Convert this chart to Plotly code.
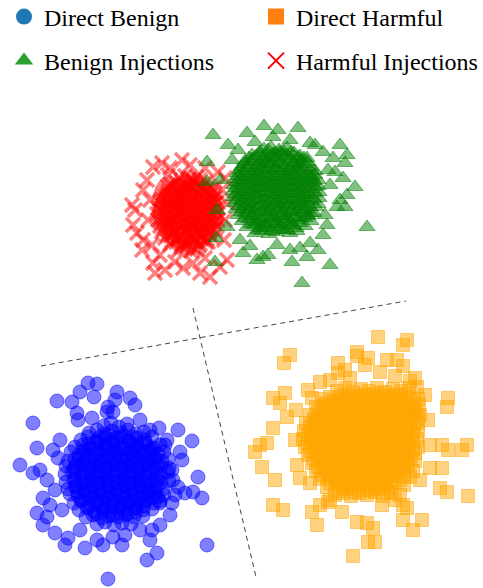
import plotly.graph_objects as go

W, H = 483, 588
FONT = "Liberation Serif"

LABELS = ["Direct Benign", "Direct Harmful", "Benign Injections", "Harmful Injections"]

# ---- Direct Benign (blue circles): embedding coordinates ----
benign_core = [
    (104,426),(111,423),(119,427),(127,424),
    (89,433),(97,430),(104,434),(112,431),(121,433),(128,430),(136,434),(144,432),
    (81,440),(88,437),(96,441),(105,438),(112,440),(120,437),(129,441),(137,438),(145,440),(152,437),
    (75,447),(83,445),(90,448),(99,444),(107,447),(114,445),(123,448),(131,445),(138,447),(146,444),(154,448),(160,445),
    (71,452),(79,455),(86,452),(95,454),(102,451),(111,454),(118,452),(127,455),(134,452),(142,454),(151,451),(158,454),(164,452),
    (68,461),(75,459),(83,462),(90,459),(99,461),(106,458),(115,461),(122,459),(131,462),(138,459),(147,461),(154,458),(162,461),(168,459),
    (66,466),(74,468),(81,465),(90,468),(97,466),(106,468),(113,465),(122,468),(129,466),(138,468),(145,465),(154,467),(161,466),(169,468),
    (65,474),(72,472),(81,475),(88,473),(97,476),(104,473),(113,475),(120,472),(129,475),(136,473),(145,476),(152,473),(161,475),(168,472),
    (66,482),(74,480),(81,483),(90,481),(97,483),(106,480),(113,482),(122,480),(129,483),(138,481),(145,483),(154,480),(161,482),(169,481),
    (68,489),(75,487),(84,490),(91,487),(100,489),(107,487),(116,490),(123,487),(132,489),(139,487),(148,490),(155,488),(163,489),
    (70,494),(78,496),(85,494),(94,497),(101,494),(110,496),(117,494),(126,497),(133,495),(142,496),(149,494),(158,497),(164,495),
    (74,503),(81,501),(90,504),(97,501),(106,503),(113,501),(122,504),(129,502),(138,504),(145,501),(154,503),(160,501),
    (79,510),(87,508),(94,511),(103,509),(110,511),(119,508),(126,510),(135,508),(143,510),(152,509),
    (86,517),(93,515),(102,518),(109,516),(118,517),(125,515),(134,517),(143,516),
    (97,524),(105,522),(114,525),(122,523),(131,524),
]
benign_inner = [
    (100,437),(108,435),(116,438),(124,436),(132,437),
    (89,444),(97,442),(105,445),(113,443),(121,444),(129,442),(137,445),(145,443),
    (83,451),(91,449),(99,452),(107,450),(115,451),(123,449),(131,452),(139,450),(147,451),(152,449),
    (79,458),(87,456),(95,459),(103,457),(111,458),(119,456),(127,459),(135,457),(143,458),(151,456),(156,459),
    (76,465),(84,463),(92,466),(100,464),(108,465),(116,463),(124,466),(132,464),(140,465),(148,463),(157,466),
    (75,472),(83,470),(91,473),(99,471),(107,472),(115,470),(123,473),(131,471),(139,472),(147,470),(158,473),
    (75,479),(83,477),(91,480),(99,478),(107,479),(115,477),(123,480),(131,478),(139,479),(147,477),(158,480),
    (76,486),(84,484),(92,487),(100,485),(108,486),(116,484),(124,487),(132,485),(140,486),(148,484),(157,487),
    (78,493),(86,491),(94,494),(102,492),(110,493),(118,491),(126,494),(134,492),(142,493),(150,491),(155,494),
    (82,500),(90,498),(98,501),(106,499),(114,500),(122,498),(130,501),(138,499),(146,500),(152,498),
    (88,507),(96,505),(104,508),(112,506),(120,507),(128,505),(136,508),(144,506),
    (96,514),(104,512),(112,515),(120,513),(128,514),(136,512),
]
benign_outer = [
    (88,383),(97,384),(57,401),(80,392),(72,402),(94,397),(117,392),(115,400),(130,398),(135,405),
    (108,407),(107,412),(113,412),(77,413),(78,420),(33,423),(37,448),(20,465),(33,473),(178,430),
    (192,441),(159,428),(150,430),(167,440),(180,452),(182,460),(198,477),(193,492),(202,498),(185,493),
    (173,480),(178,487),(172,503),(170,515),(160,525),(152,530),(150,540),(157,553),(147,560),(207,545),
    (108,579),(122,545),(103,545),(85,548),(65,545),(68,538),(55,533),(43,525),(47,517),(37,513),
    (50,505),(43,498),(40,470),(47,480),(53,450),(97,540),(113,537),(160,503),
    (60,440),(58,458),(55,490),(62,510),(92,418),(140,420),(172,470),(175,495),(140,530),(80,530),
    (125,535),(165,445),
]

# ---- Direct Harmful (orange squares) ----
harmful_core = [
    (337,391),(345,388),(353,392),(361,389),(369,391),(377,388),(385,392),(393,389),(401,391),(409,388),
    (322,399),(330,397),(338,400),(346,397),(354,399),(362,396),(370,400),(378,397),(386,399),(394,396),(402,400),(410,397),(418,399),
    (316,407),(324,405),(332,408),(340,405),(348,407),(356,404),(364,408),(372,405),(380,407),(388,404),(396,408),(404,405),(412,407),(419,405),
    (310,415),(318,413),(326,416),(334,413),(342,415),(350,412),(358,416),(366,413),(374,415),(382,412),(390,416),(398,413),(406,415),(414,412),(420,415),
    (306,423),(314,421),(322,424),(330,421),(338,423),(346,420),(354,424),(362,421),(370,423),(378,420),(386,424),(394,421),(402,423),(410,420),(418,423),
    (304,431),(312,429),(320,432),(328,429),(336,431),(344,428),(352,432),(360,429),(368,431),(376,428),(384,432),(392,429),(400,431),(408,428),(418,431),
    (303,439),(311,437),(319,440),(327,437),(335,439),(343,436),(351,440),(359,437),(367,439),(375,436),(383,440),(391,437),(399,439),(407,436),(417,439),
    (305,447),(313,445),(321,448),(329,445),(337,447),(345,444),(353,448),(361,445),(369,447),(377,444),(385,448),(393,445),(401,447),(409,444),(418,447),
    (308,455),(316,453),(324,456),(332,453),(340,455),(348,452),(356,456),(364,453),(372,455),(380,452),(388,456),(396,453),(404,455),(415,453),
    (312,463),(320,461),(328,464),(336,461),(344,463),(352,460),(360,464),(368,461),(376,463),(384,460),(392,464),(400,461),(408,463),(415,461),
    (316,471),(324,469),(332,472),(340,469),(348,471),(356,468),(364,472),(372,469),(380,471),(388,468),(396,472),(404,469),(413,471),
    (320,479),(328,477),(336,480),(344,477),(352,479),(360,476),(368,480),(376,477),(384,479),(392,476),(400,480),(410,477),
    (327,487),(335,485),(343,488),(351,485),(359,487),(367,484),(375,488),(383,485),(391,487),(404,485),
    (335,495),(343,493),(351,496),(359,493),(367,495),(375,492),(383,496),(391,493),(400,495),
]
harmful_inner = [
    (341,395),(349,393),(357,396),(365,394),(373,395),(381,393),(389,396),(397,394),(405,395),
    (326,403),(334,401),(342,404),(350,402),(358,403),(366,401),(374,404),(382,402),(390,403),(398,401),(406,404),(414,402),
    (320,411),(328,409),(336,412),(344,410),(352,411),(360,409),(368,412),(376,410),(384,411),(392,409),(400,412),(408,410),(416,411),
    (314,419),(322,417),(330,420),(338,418),(346,419),(354,417),(362,420),(370,418),(378,419),(386,417),(394,420),(402,418),(410,419),(418,417),
    (310,427),(318,425),(326,428),(334,426),(342,427),(350,425),(358,428),(366,426),(374,427),(382,425),(390,428),(398,426),(406,427),(414,425),
    (308,435),(316,433),(324,436),(332,434),(340,435),(348,433),(356,436),(364,434),(372,435),(380,433),(388,436),(396,434),(404,435),(413,433),
    (308,443),(316,441),(324,444),(332,442),(340,443),(348,441),(356,444),(364,442),(372,443),(380,441),(388,444),(396,442),(404,443),(413,441),
    (310,451),(318,449),(326,452),(334,450),(342,451),(350,449),(358,452),(366,450),(374,451),(382,449),(390,452),(398,450),(406,451),(413,449),
    (314,459),(322,457),(330,460),(338,458),(346,459),(354,457),(362,460),(370,458),(378,459),(386,457),(394,460),(402,458),(411,459),
    (318,467),(326,465),(334,468),(342,466),(350,467),(358,465),(366,468),(374,466),(382,467),(390,465),(398,468),(408,466),
    (322,475),(330,473),(338,476),(346,474),(354,475),(362,473),(370,476),(378,474),(386,475),(394,473),(405,476),
    (330,483),(338,481),(346,484),(354,482),(362,483),(370,481),(378,484),(386,482),(395,483),
    (339,491),(347,489),(355,492),(363,490),(371,491),(379,489),(388,492),
]
harmful_outer = [
    (378,337),(407,340),(403,345),(357,352),(357,356),(368,358),(365,365),(290,355),(284,363),(338,363),
    (338,373),(387,360),(397,360),(403,366),(320,382),(415,378),(417,387),(410,381),(285,393),(273,398),
    (280,403),(312,398),(448,398),(447,407),(287,417),(273,428),(467,445),(462,450),(448,450),(442,445),
    (260,445),(255,452),(267,443),(262,467),(275,480),(430,468),(442,468),(440,488),(447,492),(468,496),
    (273,505),(283,510),(312,512),(317,525),(320,505),(342,512),(328,502),(357,522),(367,523),(373,528),
    (382,505),(403,505),(407,508),(403,520),(413,530),(422,520),(368,542),(375,542),(353,556),(310,483),
    (308,390),(330,380),(350,378),(395,376),(425,395),(428,420),(430,445),(296,410),(295,440),(297,465),
    (300,478),(330,500),(395,500),(420,480),(345,370),(380,372),
]

# ---- Harmful Injections (red crosses) ----
inj_harmful_core = [
    (179,178),(185,176),(191,179),(197,177),
    (170,184),(176,182),(182,185),(188,183),(194,181),(200,184),(206,182),
    (165,190),(171,188),(177,191),(183,189),(189,187),(195,190),(201,188),(207,191),(212,189),
    (162,196),(168,194),(174,197),(180,195),(186,193),(192,196),(198,194),(204,197),(210,195),(215,193),
    (160,202),(166,200),(172,203),(178,201),(184,199),(190,202),(196,200),(202,203),(208,201),(214,199),(217,202),
    (158,208),(164,206),(170,209),(176,207),(182,205),(188,208),(194,206),(200,209),(206,207),(212,205),(218,208),
    (157,214),(163,212),(169,215),(175,213),(181,211),(187,214),(193,212),(199,215),(205,213),(211,211),(218,214),
    (158,220),(164,218),(170,221),(176,219),(182,217),(188,220),(194,218),(200,221),(206,219),(212,217),(218,220),
    (160,226),(166,224),(172,227),(178,225),(184,223),(190,226),(196,224),(202,227),(208,225),(214,223),(217,226),
    (162,232),(168,230),(174,233),(180,231),(186,229),(192,232),(198,230),(204,233),(210,231),(215,229),
    (165,238),(171,236),(177,239),(183,237),(189,235),(195,238),(201,236),(207,239),(212,237),
    (170,244),(176,242),(182,245),(188,243),(194,241),(200,244),(206,242),
    (179,250),(185,248),(191,251),(197,249),
]
inj_harmful_inner = [
    (182,181),(188,179),(194,182),(200,180),
    (167,187),(173,185),(179,188),(185,186),(191,187),(197,185),(203,188),(209,186),
    (163,193),(169,191),(175,194),(181,192),(187,193),(193,191),(199,194),(205,192),(211,193),
    (161,199),(167,197),(173,200),(179,198),(185,199),(191,197),(197,200),(203,198),(209,199),(215,197),
    (160,205),(166,203),(172,206),(178,204),(184,205),(190,203),(196,206),(202,204),(208,205),(215,203),
    (160,211),(166,209),(172,212),(178,210),(184,211),(190,209),(196,212),(202,210),(208,211),(215,209),
    (160,217),(166,215),(172,218),(178,216),(184,217),(190,215),(196,218),(202,216),(208,217),(215,215),
    (161,223),(167,221),(173,224),(179,222),(185,223),(191,221),(197,224),(203,222),(209,223),(215,221),
    (163,229),(169,227),(175,230),(181,228),(187,229),(193,227),(199,230),(205,228),(211,229),
    (167,235),(173,233),(179,236),(185,234),(191,235),(197,233),(203,236),(209,234),
    (172,241),(178,239),(184,242),(190,240),(196,241),(202,239),(208,242),
    (181,247),(187,245),(193,248),(199,246),
]
inj_harmful_outer = [
    (153,167),(162,163),(182,160),(190,165),(147,180),(143,190),(132,205),(135,210),(133,225),(137,233),
    (143,240),(142,250),(153,263),(155,273),(165,270),(193,263),(200,273),(210,277),(220,267),(227,260),
    (218,172),(225,178),(227,203),(170,168),(205,168),(150,200),(148,220),(152,245),(175,262),(183,268),
    (222,190),(225,220),(224,240),(205,258),(160,255),(168,175),
]

# ---- Benign Injections (green triangles) ----
inj_benign_core = [
    (264,149),(271,147),(279,150),(287,148),
    (252,155),(259,153),(266,156),(273,154),(280,152),(287,155),(294,153),(300,156),
    (245,161),(252,159),(259,162),(266,160),(273,158),(280,161),(287,159),(294,162),(301,160),(307,158),
    (241,167),(248,165),(255,168),(262,166),(269,164),(276,167),(283,165),(290,168),(297,166),(304,164),(311,167),
    (237,173),(244,171),(251,174),(258,172),(265,170),(272,173),(279,171),(286,174),(293,172),(300,170),(307,173),(315,171),
    (235,179),(242,177),(249,180),(256,178),(263,176),(270,179),(277,177),(284,180),(291,178),(298,176),(305,179),(312,177),(318,180),
    (234,185),(241,183),(248,186),(255,184),(262,182),(269,185),(276,183),(283,186),(290,184),(297,182),(304,185),(311,183),(318,186),
    (233,191),(240,189),(247,192),(254,190),(261,188),(268,191),(275,189),(282,192),(289,190),(296,188),(303,191),(310,189),(319,192),
    (233,197),(240,195),(247,198),(254,196),(261,194),(268,197),(275,195),(282,198),(289,196),(296,194),(303,197),(310,195),(319,198),
    (234,203),(241,201),(248,204),(255,202),(262,200),(269,203),(276,201),(283,204),(290,202),(297,200),(304,203),(311,201),(318,204),
    (236,209),(243,207),(250,210),(257,208),(264,206),(271,209),(278,207),(285,210),(292,208),(299,206),(306,209),(316,207),
    (238,215),(245,213),(252,216),(259,214),(266,212),(273,215),(280,213),(287,216),(294,214),(301,212),(308,215),(314,213),
    (242,221),(249,219),(256,222),(263,220),(270,218),(277,221),(284,219),(291,222),(298,220),(305,218),(311,221),
    (247,227),(254,225),(261,228),(268,226),(275,224),(282,227),(289,225),(296,228),(305,226),
    (255,233),(262,231),(269,234),(276,232),(283,230),(290,233),(297,231),
]
inj_benign_inner = [
    (260,152),(268,150),(275,153),(283,151),(291,152),
    (249,158),(256,156),(263,159),(270,157),(277,158),(284,156),(291,159),(298,157),(304,158),
    (244,164),(251,162),(258,165),(265,163),(272,164),(279,162),(286,165),(293,163),(300,164),(308,162),
    (240,170),(247,168),(254,171),(261,169),(268,170),(275,168),(282,171),(289,169),(296,170),(303,168),(311,171),
    (238,176),(245,174),(252,177),(259,175),(266,176),(273,174),(280,177),(287,175),(294,176),(301,174),(309,177),(315,175),
    (237,182),(244,180),(251,183),(258,181),(265,182),(272,180),(279,183),(286,181),(293,182),(300,180),(307,183),(314,181),
    (236,188),(243,186),(250,189),(257,187),(264,188),(271,186),(278,189),(285,187),(292,188),(299,186),(306,189),(315,187),
    (236,194),(243,192),(250,195),(257,193),(264,194),(271,192),(278,195),(285,193),(292,194),(299,192),(306,195),(315,193),
    (237,200),(244,198),(251,201),(258,199),(265,200),(272,198),(279,201),(286,199),(293,200),(300,198),(307,201),(314,199),
    (239,206),(246,204),(253,207),(260,205),(267,206),(274,204),(281,207),(288,205),(295,206),(302,204),(310,207),
    (241,212),(248,210),(255,213),(262,211),(269,212),(276,210),(283,213),(290,211),(297,212),(304,210),(311,213),
    (245,218),(252,216),(259,219),(266,217),(273,218),(280,216),(287,219),(294,217),(301,218),(308,216),
    (251,224),(258,222),(265,225),(272,223),(279,224),(286,222),(293,225),(300,223),
    (258,230),(265,228),(272,231),(279,229),(287,230),
]
inj_benign_outer = [
    (213,135),(264,126),(278,130),(298,128),(273,137),(247,133),(228,145),(315,145),(340,145),(347,155),
    (323,152),(207,162),(333,158),(345,163),(335,172),(343,178),(355,187),(347,195),(340,200),(345,207),
    (337,207),(327,225),(323,235),(367,227),(243,253),(257,260),(263,257),(292,262),(307,257),(330,265),
    (302,283),(215,262),(220,180),(207,182),(217,210),(216,238),(227,227),(277,245),(290,250),(310,243),
    (310,143),(290,140),(255,142),(238,150),(232,160),(328,170),(330,185),(325,215),(240,240),(250,246),
    (300,248),(318,250),(268,255),
]

# ---- dashed separators (endpoints in the same embedding coordinates) ----
sep_a_x, sep_a_y = [41, 406], [366, 301]
sep_b_x, sep_b_y = [193, 256], [308, 577]


def xs(pts):
    return [p[0] for p in pts]


def ys(pts):
    return [p[1] for p in pts]


fig = go.Figure()

for sx, sy in ((sep_a_x, sep_a_y), (sep_b_x, sep_b_y)):
    fig.add_trace(go.Scatter(x=sx, y=sy, mode="lines", showlegend=False, hoverinfo="skip",
                             line=dict(color="#444444", width=1, dash="5px,4px")))

benign = benign_outer + benign_core + benign_inner
harmful = harmful_outer + harmful_core + harmful_inner
inj_harmful = inj_harmful_outer + inj_harmful_core + inj_harmful_inner
inj_benign = inj_benign_outer + inj_benign_core + inj_benign_inner

fig.add_trace(go.Scatter(x=xs(benign), y=ys(benign), mode="markers", showlegend=False,
                         hoverinfo="skip",
                         marker=dict(symbol="circle", size=14, color="rgba(0,0,255,0.5)",
                                     line=dict(color="rgba(0,0,255,0.5)", width=1))))
fig.add_trace(go.Scatter(x=xs(harmful), y=ys(harmful), mode="markers", showlegend=False,
                         hoverinfo="skip",
                         marker=dict(symbol="square", size=13, color="rgba(255,165,0,0.5)",
                                     line=dict(color="rgba(255,165,0,0.5)", width=1))))
fig.add_trace(go.Scatter(x=xs(inj_harmful), y=ys(inj_harmful), mode="markers", showlegend=False,
                         hoverinfo="skip",
                         marker=dict(symbol="x-thin-open", size=14, color="rgba(255,0,0,0.5)",
                                     line=dict(color="rgba(255,0,0,0.5)", width=3.5))))
fig.add_trace(go.Scatter(x=xs(inj_benign), y=ys(inj_benign), mode="markers", showlegend=False,
                         hoverinfo="skip",
                         marker=dict(symbol="triangle-up", size=14, color="rgba(0,128,0,0.5)",
                                     line=dict(color="rgba(0,128,0,0.5)", width=1))))

# legend proxies
legend_specs = [
    (LABELS[0], "legend", dict(symbol="circle", size=16, color="#1f77b4")),
    (LABELS[1], "legend2", dict(symbol="square", size=16, color="#ff7f0e")),
    (LABELS[2], "legend3", dict(symbol="triangle-up", size=16, color="#2ca02c")),
    (LABELS[3], "legend4", dict(symbol="x-thin-open", size=16, color="#ff0000",
                                line=dict(color="#ff0000", width=2))),
]
for name, lg, mk in legend_specs:
    fig.add_trace(go.Scatter(x=[None], y=[None], mode="markers", name=name, legend=lg, marker=mk))

lfont = dict(family=FONT, size=24, color="black")
col1, col2 = 4 / W, 256 / W
row1, row2 = 1 - 17 / H, 1 - 61 / H
common = dict(font=lfont, bgcolor="rgba(0,0,0,0)", xanchor="left", yanchor="middle",
              borderwidth=0, itemsizing="trace")

fig.update_layout(
    width=W, height=H,
    margin=dict(l=0, r=0, t=0, b=0, autoexpand=False),
    paper_bgcolor="white", plot_bgcolor="white",
    font=dict(family=FONT),
    hovermode=False,
    xaxis=dict(range=[0, W], visible=False, fixedrange=True),
    yaxis=dict(range=[H, 0], visible=False, fixedrange=True),
    legend=dict(x=col1, y=row1, **common),
    legend2=dict(x=col2, y=row1, **common),
    legend3=dict(x=col1, y=row2, **common),
    legend4=dict(x=col2, y=row2, **common),
    showlegend=True,
)

fig.write_html("out.html", config={"displayModeBar": False},
               post_script="document.body.style.margin='0px';")
